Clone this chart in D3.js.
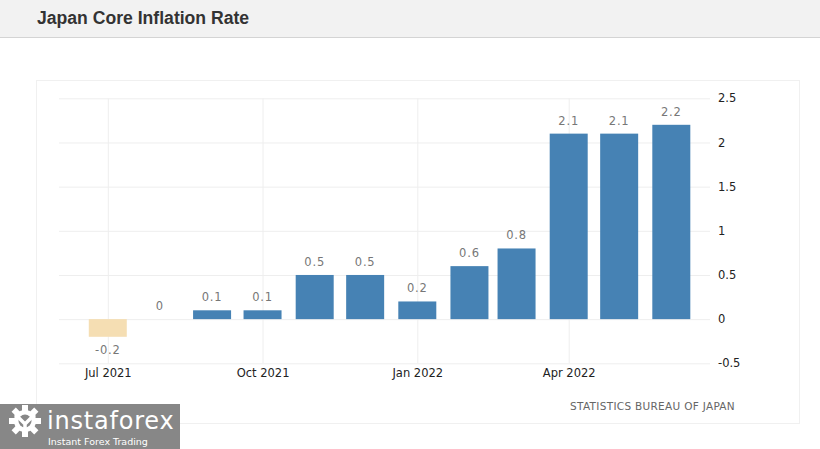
<!DOCTYPE html>
<html lang="en">
<head>
    <meta charset="utf-8" />
    <script src="https://d3js.org/d3.v7.min.js"></script>
    <style>
        body { margin: 0; background: #fff; }
        svg { display: block; }
    </style>
</head>
<body>
    <script>
        const w = 820;
        const h = 449;

        // data
        const months = ["2021-07", "2021-08", "2021-09", "2021-10", "2021-11", "2021-12",
            "2022-01", "2022-02", "2022-03", "2022-04", "2022-05", "2022-06"];
        const values = [-0.2, 0, 0.1, 0.1, 0.5, 0.5, 0.2, 0.6, 0.8, 2.1, 2.1, 2.2];
        const yTicks = [2.5, 2, 1.5, 1, 0.5, 0, -0.5];
        const xTickMonths = ["2021-07", "2021-10", "2022-01", "2022-04"];

        const parse = d3.timeParse("%Y-%m");
        const data = months.map((m, i) => ({ date: parse(m), value: values[i] }));

        const svg = d3.select("body")
            .append("svg")
            .attr("width", w)
            .attr("height", h);

        // header bar
        svg.append("rect")
            .attr("x", 0).attr("y", 0)
            .attr("width", w).attr("height", 37)
            .style("fill", "#f2f2f2");
        svg.append("line")
            .attr("x1", 0).attr("x2", w)
            .attr("y1", 37.5).attr("y2", 37.5)
            .style("stroke", "#d4d4d4");
        svg.append("text")
            .attr("x", 37)
            .attr("y", 24)
            .text("Japan Core Inflation Rate")
            .style("font-family", "Liberation Sans, Arial, sans-serif")
            .style("font-weight", "bold")
            .style("font-size", "17.6px")
            .style("fill", "#333");

        // chart panel
        svg.append("rect")
            .attr("x", 36.5).attr("y", 80.5)
            .attr("width", 763).attr("height", 343)
            .style("fill", "#fff")
            .style("stroke", "#f0f0f0");

        const xScale = d3.scaleTime()
            .domain([new Date(2021, 5, 2), new Date(2022, 5, 24)])
            .range([59, 710]);

        const yScale = d3.scaleLinear()
            .domain([-0.5, 2.5])
            .range([363.3, 98.3]);

        // horizontal grid + y labels
        const yAxis = d3.axisRight(yScale)
            .tickValues(yTicks)
            .tickSize(-(710 - 59))
            .tickPadding(8)
            .tickFormat(d => String(d));

        svg.append("g")
            .attr("transform", "translate(710, 0)")
            .call(yAxis)
            .call(g => g.select(".domain").remove())
            .call(g => g.selectAll("line").style("stroke", "#eeeeee"))
            .call(g => g.selectAll("text")
                .style("font-family", "DejaVu Sans, sans-serif")
                .style("font-size", "11.5px")
                .style("fill", "#222"));

        // vertical grid + x labels
        const xAxis = d3.axisBottom(xScale)
            .tickValues(xTickMonths.map(parse))
            .tickSize(-(363.3 - 98.3))
            .tickPadding(6)
            .tickFormat(d3.timeFormat("%b %Y"));

        svg.append("g")
            .attr("transform", "translate(0, 363.3)")
            .call(xAxis)
            .call(g => g.select(".domain").remove())
            .call(g => g.selectAll("line").style("stroke", "#eeeeee"))
            .call(g => g.selectAll("text")
                .style("font-family", "DejaVu Sans, sans-serif")
                .style("font-size", "11.5px")
                .style("fill", "#222"));

        const barW = 38;

        svg.selectAll("rect.bar")
            .data(data)
            .enter()
            .append("rect")
            .attr("class", "bar")
            .attr("x", d => xScale(d.date) - barW / 2)
            .attr("y", d => yScale(Math.max(0, d.value)))
            .attr("width", barW)
            .attr("height", d => Math.abs(yScale(d.value) - yScale(0)))
            .style("fill", d => d.value < 0 ? "#f5deb3" : "#4682b4");

        svg.selectAll("text.val")
            .data(data)
            .enter()
            .append("text")
            .attr("class", "val")
            .attr("x", d => xScale(d.date))
            .attr("y", d => d.value < 0 ? yScale(d.value) + 17 : yScale(d.value) - 9)
            .attr("text-anchor", "middle")
            .text(d => String(d.value))
            .style("font-family", "DejaVu Sans, sans-serif")
            .style("font-size", "11.5px")
            .style("letter-spacing", "0.8px")
            .style("fill", "#777");

        // source
        svg.append("text")
            .attr("x", 735)
            .attr("y", 410)
            .attr("text-anchor", "end")
            .text("STATISTICS BUREAU OF JAPAN")
            .style("font-family", "DejaVu Sans, sans-serif")
            .style("font-size", "10.5px")
            .style("letter-spacing", "0.3px")
            .style("fill", "#666");

        // watermark logo
        const logo = svg.append("g");
        logo.append("rect")
            .attr("x", 0).attr("y", 404)
            .attr("width", 180).attr("height", 45)
            .style("fill", "#878787");
        const gear = logo.append("g").attr("transform", "translate(25, 421)");
        d3.range(8).forEach(i => {
            gear.append("rect")
                .attr("x", -3).attr("y", -16)
                .attr("width", 6).attr("height", 7)
                .attr("transform", "rotate(" + (i * 45) + ")")
                .style("fill", "#fff");
        });
        gear.append("circle").attr("r", 11).style("fill", "#fff");
        gear.append("circle").attr("r", 6.5).style("fill", "#878787");
        gear.append("path")
            .attr("d", "M-7,-4 L0,3 L7,-4 M0,3 L0,14")
            .style("stroke", "#fff")
            .style("stroke-width", 3.5)
            .style("fill", "none");
        gear.append("circle").attr("cx", -8).attr("cy", -5).attr("r", 2.6).style("fill", "#fff");
        gear.append("circle").attr("cx", 8).attr("cy", -5).attr("r", 2.6).style("fill", "#fff");
        logo.append("text")
            .attr("x", 47).attr("y", 429)
            .text("instaforex")
            .style("font-family", "DejaVu Sans, sans-serif")
            .style("font-size", "24px")
            .style("letter-spacing", "0.8px")
            .style("fill", "#fff");
        logo.append("text")
            .attr("x", 48).attr("y", 445)
            .text("Instant Forex Trading")
            .style("font-family", "DejaVu Sans, sans-serif")
            .style("font-size", "9.5px")
            .style("fill", "#fff");
    </script>
</body>
</html>
